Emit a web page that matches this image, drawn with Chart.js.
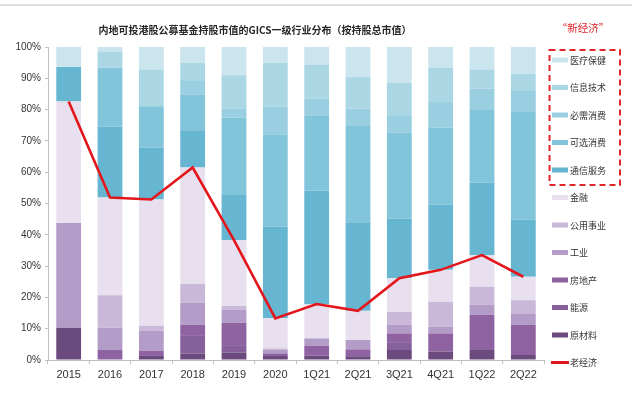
<!DOCTYPE html>
<html>
<head>
<meta charset="utf-8">
<script src="https://cdn.jsdelivr.net/npm/chart.js@4"></script>
<style>
html,body{margin:0;padding:0;background:#fff;}
canvas{display:block;}
</style>
</head>
<body>
<canvas id="c" width="640" height="393"></canvas>
<script>
const categories = ['2015','2016','2017','2018','2019','2020','1Q21','2Q21','3Q21','4Q21','1Q22','2Q22'];

// old economy sectors (bottom of stack)
const materials   = [10.3, 0,    1.3, 2.1, 2.4, 1.3, 1.4, 1.2, 3.2, 2.7, 3.2, 1.6];   // 原材料
const energy      = [0,    0,    0,   5.6, 2.1, 0.8, 0,   0,   2.5, 0,   0,   0];     // 能源
const realEstate  = [0,    3.2,  1.6, 3.6, 7.4, 0,   3.1, 2.2, 2.8, 5.8, 11.2, 9.6];  // 房地产
const industrials = [33.5, 7.1,  6.5, 7.0, 4.1, 1.1, 2.4, 3.0, 2.7, 2.1, 3.2, 3.7];   // 工业
const utilities   = [0,    10.4, 1.5, 6.0, 1.3, 0.5, 0,   0,   4.2, 8.0, 5.8, 4.2];   // 公用事业
const financials  = [38.8, 31.2, 40.4, 37.2, 21.0, 9.6, 11.0, 9.3, 10.7, 10.2, 10.1, 7.5]; // 金融
// new economy sectors
const commServices = [11.0, 22.6, 16.5, 11.9, 14.4, 29.3, 36.2, 28.1, 19.1, 20.9, 23.1, 18.2]; // 通信服务
const consDiscr    = [0,    18.9, 13.3, 11.4, 24.8, 29.3, 24.1, 31.2, 27.4, 24.5, 23.5, 34.7]; // 可选消费
const consStaples  = [0,    0,    0,    4.6,  2.9,  9.0,  5.3,  5.3,  5.6,  8.2,  6.6,  6.7];  // 必需消费
const infoTech     = [0,    5.2,  11.7, 5.5,  10.6, 14.0, 10.9, 10.1, 10.3, 11.0, 6.1,  5.3];  // 信息技术
const healthCare   = [6.4,  1.4,  7.2,  5.1,  9.0,  5.1,  5.6,  9.6,  11.5, 6.6,  7.2,  8.5];  // 医疗保健
// 老经济 line
const oldEconomy   = [82.6, 51.9, 51.3, 61.5, 38.3, 13.3, 17.9, 15.7, 26.1, 28.8, 33.5, 26.6];

const yTicks = [0,10,20,30,40,50,60,70,80,90,100];

const title = '内地可投港股公募基金持股市值的GICS一级行业分布（按持股总市值）';
const newEcoLabel = '“新经济”';

const FONT = "'Liberation Sans','Noto Sans CJK SC',sans-serif";
const CJK = "'Noto Sans CJK SC','Liberation Sans',sans-serif";

const barSets = [
  {label:'原材料', data:materials, color:'#6b4a7d'},
  {label:'能源', data:energy, color:'#86609b'},
  {label:'房地产', data:realEstate, color:'#8f62a2'},
  {label:'工业', data:industrials, color:'#b39cc7'},
  {label:'公用事业', data:utilities, color:'#cab8d8'},
  {label:'金融', data:financials, color:'#e8e0ee'},
  {label:'通信服务', data:commServices, color:'#66b6d2'},
  {label:'可选消费', data:consDiscr, color:'#82c4da'},
  {label:'必需消费', data:consStaples, color:'#99cfe0'},
  {label:'信息技术', data:infoTech, color:'#abd7e5'},
  {label:'医疗保健', data:healthCare, color:'#cae5ee'}
];

const datasets = barSets.map(s => ({
  type:'bar', label:s.label, data:s.data, backgroundColor:s.color,
  borderWidth:0, barPercentage:0.6, categoryPercentage:1.0, order:1, stack:'s', yAxisID:'y'
}));
datasets.push({
  type:'line', label:'老经济', data:oldEconomy, borderColor:'#e3161c', borderWidth:2.6,
  pointRadius:0, tension:0, fill:false, order:0, yAxisID:'y2'
});

const decor = {
  id:'decor',
  afterDraw(chart){
    const ctx = chart.ctx;
    ctx.save();
    // top grey rule
    ctx.strokeStyle = '#dcdcdc'; ctx.lineWidth = 2;
    ctx.beginPath(); ctx.moveTo(0,5); ctx.lineTo(632,5); ctx.stroke();
    // title
    ctx.fillStyle = '#262626';
    ctx.font = "bold 10px " + CJK;
    ctx.textAlign = 'center'; ctx.textBaseline = 'middle';
    ctx.fillText(title, 255, 30);
    // new economy label
    ctx.fillStyle = '#e0262b';
    ctx.font = "10.5px " + CJK;
    ctx.fillText(newEcoLabel, 583, 28);
    // dashed box
    ctx.strokeStyle = '#e0262b'; ctx.lineWidth = 2; ctx.setLineDash([6,4]);
    ctx.strokeRect(549.5, 50, 70.5, 135);
    ctx.setLineDash([]);
    // legend
    const items = barSets.slice().reverse();
    ctx.textAlign = 'left';
    ctx.font = "9px " + CJK;
    items.forEach((s,i) => {
      const y = 60 + 27.5*i;
      ctx.fillStyle = s.color;
      ctx.fillRect(552, y-2.5, 16, 5);
      ctx.fillStyle = '#333';
      ctx.fillText(s.label, 570, y+0.5);
    });
    const yl = 60 + 27.5*11;
    ctx.strokeStyle = '#e3161c'; ctx.lineWidth = 3;
    ctx.beginPath(); ctx.moveTo(551, yl); ctx.lineTo(569, yl); ctx.stroke();
    ctx.fillStyle = '#333';
    ctx.fillText('老经济', 570, yl+0.5);
    ctx.restore();
  }
};

new Chart(document.getElementById('c'), {
  data:{labels:categories, datasets},
  options:{
    responsive:false, animation:false, devicePixelRatio:1,
    layout:{padding:{top:47, right:96, left:0, bottom:0}},
    plugins:{legend:{display:false}, tooltip:{enabled:false}, title:{display:false}},
    scales:{
      x:{
        stacked:true,
        grid:{display:true, drawOnChartArea:false, drawTicks:true, tickLength:4, color:'#bfbfbf', offset:true},
        border:{display:true, color:'#bfbfbf', width:1},
        ticks:{color:'#333', font:{family:FONT, size:11}, padding:4, maxRotation:0, autoSkip:false},
        afterFit(s){ s.height = 33; }
      },
      y:{
        stacked:true, min:0, max:100,
        afterBuildTicks(s){ s.ticks = yTicks.map(v => ({value:v})); },
        grid:{display:true, drawOnChartArea:false, drawTicks:true, tickLength:3, color:'#bfbfbf'},
        border:{display:true, color:'#bfbfbf', width:1},
        ticks:{color:'#333', font:{family:FONT, size:10}, padding:4, callback:v => v + '%'},
        afterFit(s){ s.width = 48; }
      },
      y2:{display:false, min:0, max:100, stacked:false}
    }
  },
  plugins:[decor]
});
</script>
</body>
</html>
